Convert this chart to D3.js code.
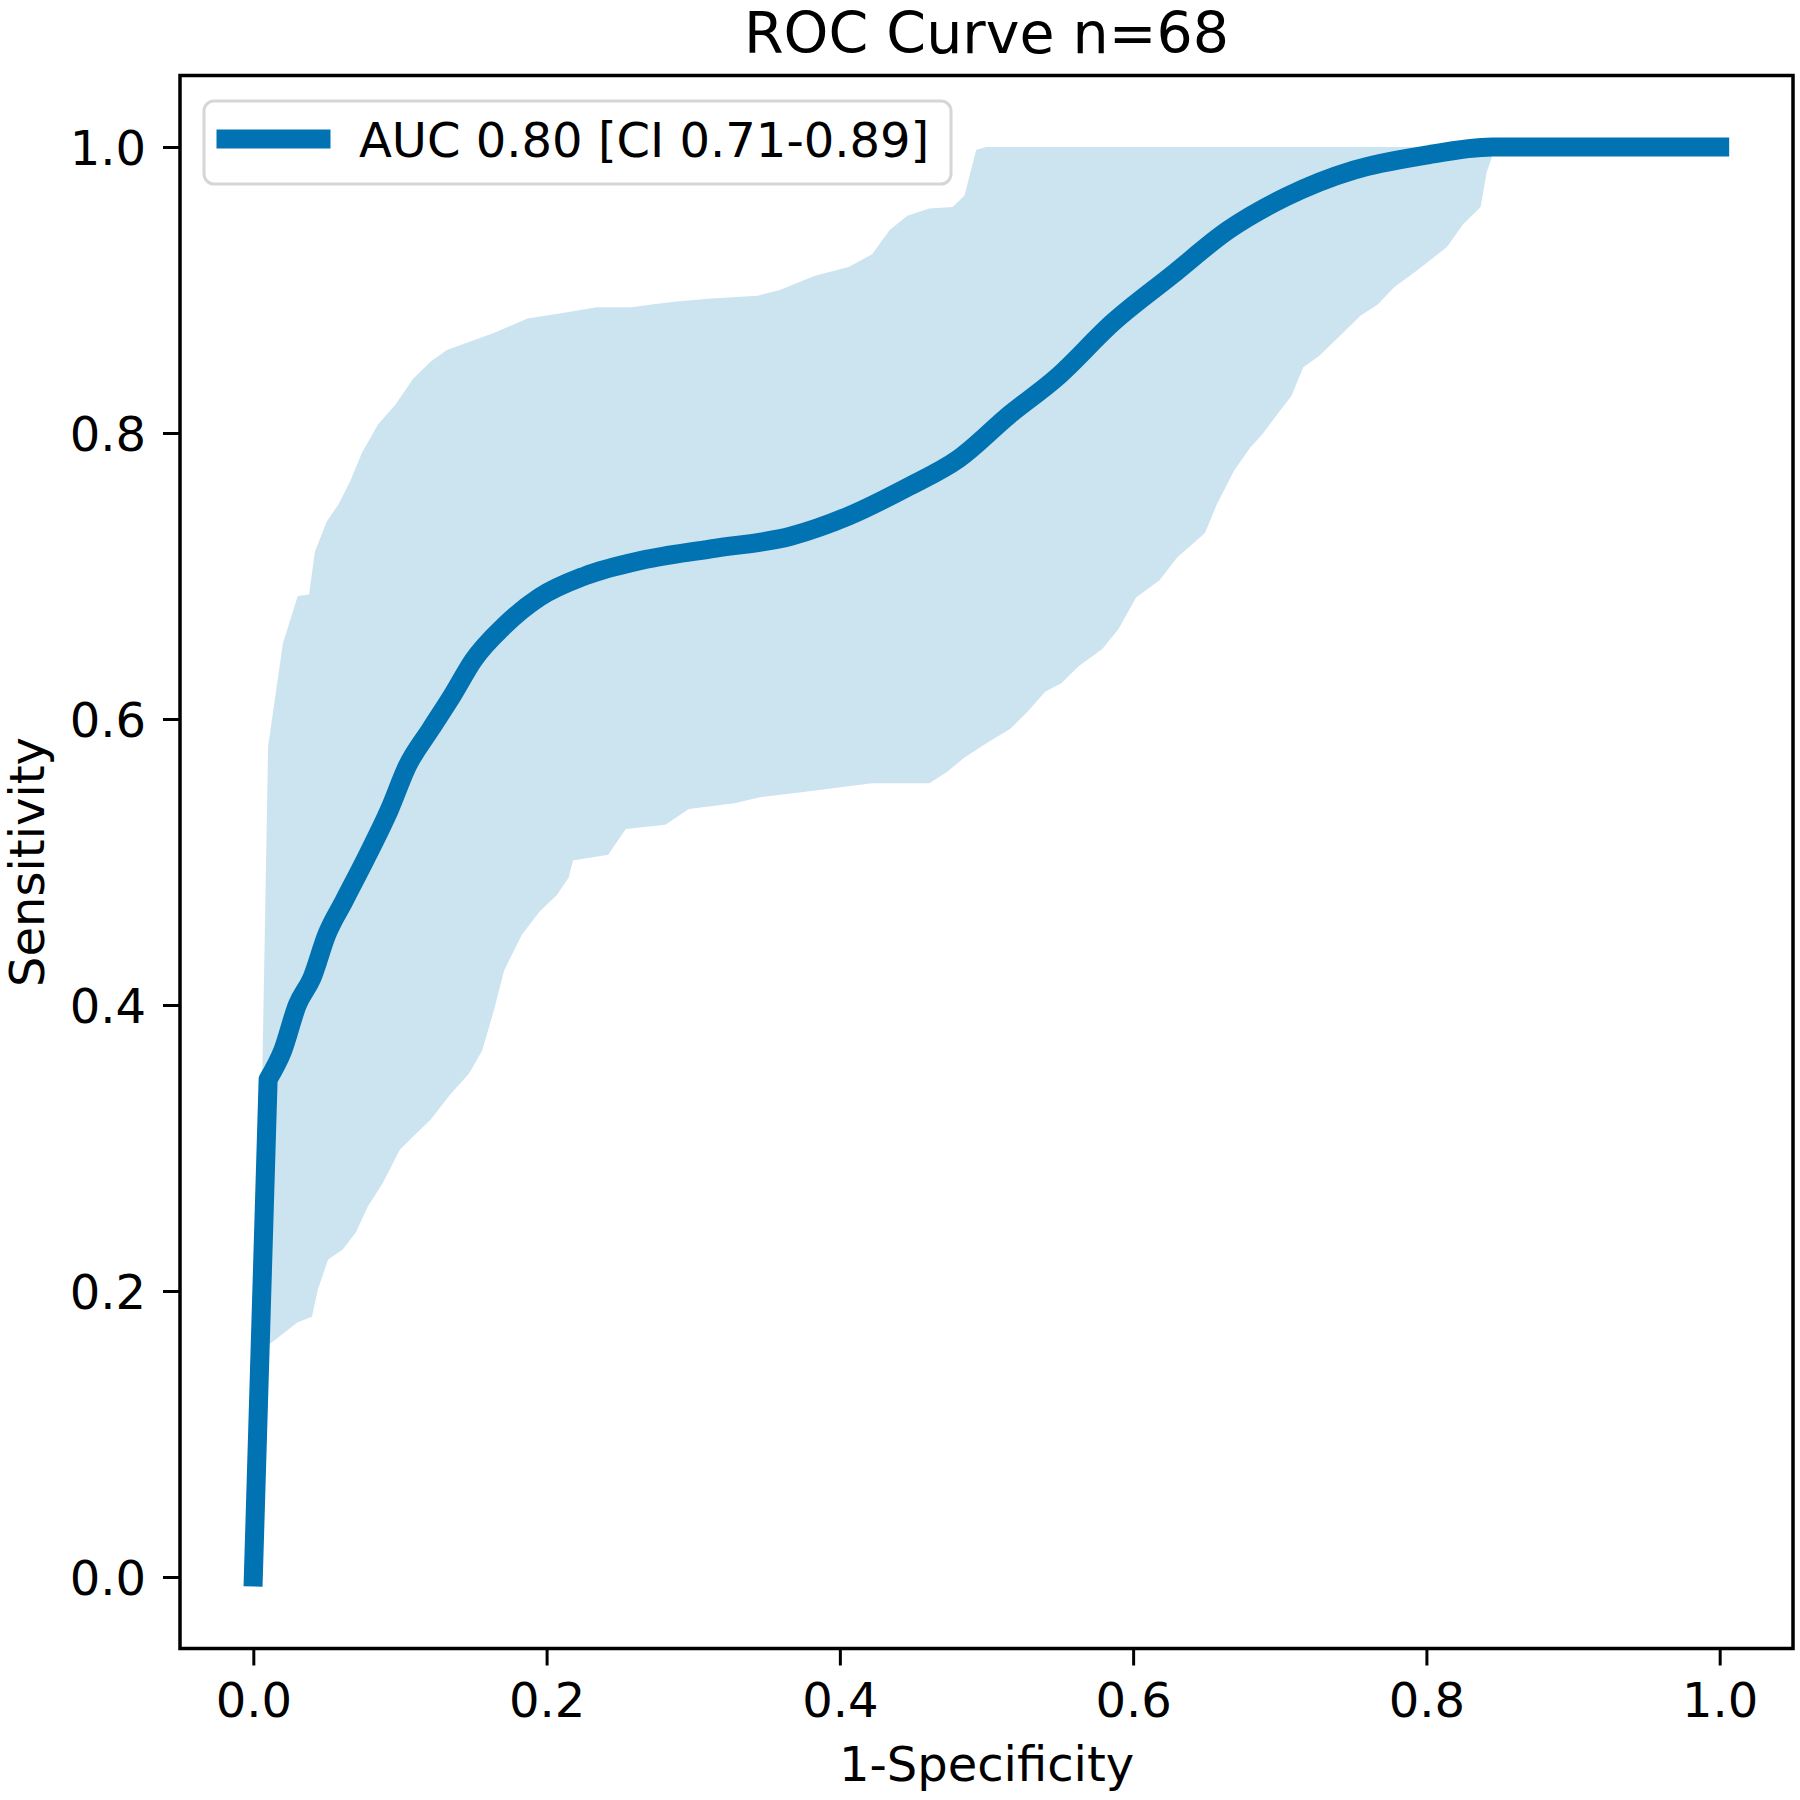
<!DOCTYPE html>
<html>
<head>
<meta charset="utf-8">
<script src="https://cdn.jsdelivr.net/npm/d3@7"></script>
<style>
  body { margin: 0; background: #fff; }
  svg { display: block; }
  text { font-family: "DejaVu Sans", sans-serif; fill: #000; }
</style>
</head>
<body>
<svg id="chart" width="1800" height="1800"></svg>
<script>
// ---- data ----
const title = "ROC Curve n=68";
const xLabel = "1-Specificity";
const yLabel = "Sensitivity";
const legendLabel = "AUC 0.80 [CI 0.71-0.89]";

const xTicks = [0.0, 0.2, 0.4, 0.6, 0.8, 1.0];
const yTicks = [0.0, 0.2, 0.4, 0.6, 0.8, 1.0];

const meanFpr = [0, 0.0101, 0.02, 0.03, 0.04, 0.05, 0.062, 0.078, 0.093, 0.105, 0.121, 0.136, 0.150, 0.171, 0.195, 0.226, 0.265, 0.312, 0.367, 0.406, 0.446, 0.481, 0.516, 0.547, 0.587, 0.626, 0.665, 0.704, 0.751, 0.798, 0.845, 1.0];
const meanTpr = [0, 0.348, 0.368, 0.400, 0.419, 0.449, 0.473, 0.505, 0.537, 0.567, 0.593, 0.617, 0.641, 0.665, 0.685, 0.700, 0.711, 0.719, 0.728, 0.742, 0.762, 0.782, 0.813, 0.838, 0.878, 0.910, 0.942, 0.965, 0.984, 0.994, 1.0, 1.0];

const upperFpr = [0, 0.0101, 0.0202, 0.0303, 0.038, 0.042, 0.050, 0.058, 0.066, 0.074, 0.085, 0.097, 0.109, 0.121, 0.132, 0.148, 0.164, 0.187, 0.211, 0.234, 0.258, 0.273, 0.289, 0.312, 0.344, 0.359, 0.383, 0.406, 0.422, 0.434, 0.446, 0.461, 0.477, 0.485, 0.493, 0.500, 1.0];
const upperTpr = [0, 0.581, 0.653, 0.686, 0.687, 0.717, 0.738, 0.750, 0.766, 0.786, 0.806, 0.820, 0.838, 0.850, 0.858, 0.864, 0.870, 0.880, 0.884, 0.888, 0.888, 0.890, 0.892, 0.894, 0.896, 0.900, 0.910, 0.916, 0.925, 0.942, 0.952, 0.957, 0.958, 0.966, 0.998, 1.0, 1.0];

const lowerFpr = [0, 0.0101, 0.02, 0.03, 0.04, 0.044, 0.051, 0.061, 0.070, 0.078, 0.088, 0.100, 0.109, 0.121, 0.134, 0.147, 0.156, 0.164, 0.171, 0.183, 0.195, 0.207, 0.215, 0.218, 0.242, 0.254, 0.281, 0.297, 0.328, 0.344, 0.375, 0.422, 0.461, 0.473, 0.485, 0.500, 0.516, 0.528, 0.540, 0.551, 0.563, 0.579, 0.590, 0.602, 0.618, 0.630, 0.649, 0.657, 0.669, 0.680, 0.688, 0.696, 0.708, 0.716, 0.727, 0.743, 0.755, 0.767, 0.778, 0.794, 0.814, 0.825, 0.837, 0.841, 0.845, 0.847, 1.0];
const lowerTpr = [0, 0.162, 0.170, 0.178, 0.182, 0.201, 0.222, 0.229, 0.241, 0.259, 0.275, 0.299, 0.308, 0.320, 0.337, 0.352, 0.368, 0.396, 0.424, 0.449, 0.465, 0.477, 0.489, 0.501, 0.505, 0.523, 0.526, 0.537, 0.541, 0.545, 0.549, 0.555, 0.555, 0.563, 0.573, 0.583, 0.593, 0.605, 0.619, 0.625, 0.637, 0.649, 0.663, 0.685, 0.697, 0.713, 0.730, 0.750, 0.774, 0.790, 0.799, 0.810, 0.826, 0.846, 0.854, 0.870, 0.882, 0.890, 0.902, 0.914, 0.930, 0.946, 0.958, 0.982, 0.994, 1.0, 1.0];

// ---- layout ----
const lineColor = "#0173B2";
const svg = d3.select("#chart");
const plot = { left: 180, right: 1793, top: 75.5, bottom: 1648.5 };

const x = d3.scaleLinear().domain([-0.05, 1.05]).range([plot.left, plot.right]);
const y = d3.scaleLinear().domain([-0.05, 1.05]).range([plot.bottom, plot.top]);

const mean = meanFpr.map((f, i) => [f, meanTpr[i]]);
const upper = upperFpr.map((f, i) => [f, upperTpr[i]]);
const lower = lowerFpr.map((f, i) => [f, lowerTpr[i]]);

const line = d3.line().x(d => x(d[0])).y(d => y(d[1]));
const smoothLine = d3.line().x(d => x(d[0])).y(d => y(d[1])).curve(d3.curveMonotoneX);

// CI band
svg.append("path")
  .attr("d", line(upper.concat(lower.slice().reverse())) + "Z")
  .attr("fill", lineColor)
  .attr("fill-opacity", 0.2)
  .attr("stroke", "none");

// mean ROC line: straight first segment, smooth afterwards
const meanPath = line(mean.slice(0, 2)) + smoothLine(mean.slice(1)).replace(/^M/, "L");
svg.append("path")
  .attr("d", meanPath)
  .attr("fill", "none")
  .attr("stroke", lineColor)
  .attr("stroke-width", 19)
  .attr("stroke-linecap", "square")
  .attr("stroke-linejoin", "round");

// axes
const fmt = d3.format(".1f");
const gx = svg.append("g")
  .attr("transform", `translate(0,${plot.bottom})`)
  .call(d3.axisBottom(x).tickValues(xTicks).tickFormat(fmt).tickSize(17).tickPadding(17));
const gy = svg.append("g")
  .attr("transform", `translate(${plot.left},0)`)
  .call(d3.axisLeft(y).tickValues(yTicks).tickFormat(fmt).tickSize(17).tickPadding(17));
[gx, gy].forEach(g => {
  g.select(".domain").remove();
  g.selectAll(".tick line").attr("stroke", "#000").attr("stroke-width", 3);
  g.selectAll(".tick text").attr("font-size", 48).attr("font-family", "DejaVu Sans").attr("fill", "#000");
});
gy.selectAll(".tick text").attr("dy", "0.37em");

// frame
svg.append("rect")
  .attr("x", plot.left).attr("y", plot.top)
  .attr("width", plot.right - plot.left).attr("height", plot.bottom - plot.top)
  .attr("fill", "none").attr("stroke", "#000").attr("stroke-width", 3.5);

// title & labels
svg.append("text")
  .attr("x", (plot.left + plot.right) / 2).attr("y", 53)
  .attr("text-anchor", "middle").attr("font-size", 57)
  .text(title);
svg.append("text")
  .attr("x", (plot.left + plot.right) / 2).attr("y", 1781)
  .attr("text-anchor", "middle").attr("font-size", 48)
  .text(xLabel);
svg.append("text")
  .attr("transform", `translate(44,${(plot.top + plot.bottom) / 2}) rotate(-90)`)
  .attr("text-anchor", "middle").attr("font-size", 48)
  .text(yLabel);

// legend
const lg = svg.append("g");
lg.append("rect")
  .attr("x", 204).attr("y", 101).attr("width", 747).attr("height", 83)
  .attr("rx", 10).attr("ry", 10)
  .attr("fill", "#fff").attr("fill-opacity", 0.8)
  .attr("stroke", "#d6d6d6").attr("stroke-width", 3);
lg.append("line")
  .attr("x1", 226).attr("x2", 321).attr("y1", 139).attr("y2", 139)
  .attr("stroke", lineColor).attr("stroke-width", 19).attr("stroke-linecap", "square");
lg.append("text")
  .attr("x", 359).attr("y", 157).attr("font-size", 48)
  .text(legendLabel);
</script>
</body>
</html>
